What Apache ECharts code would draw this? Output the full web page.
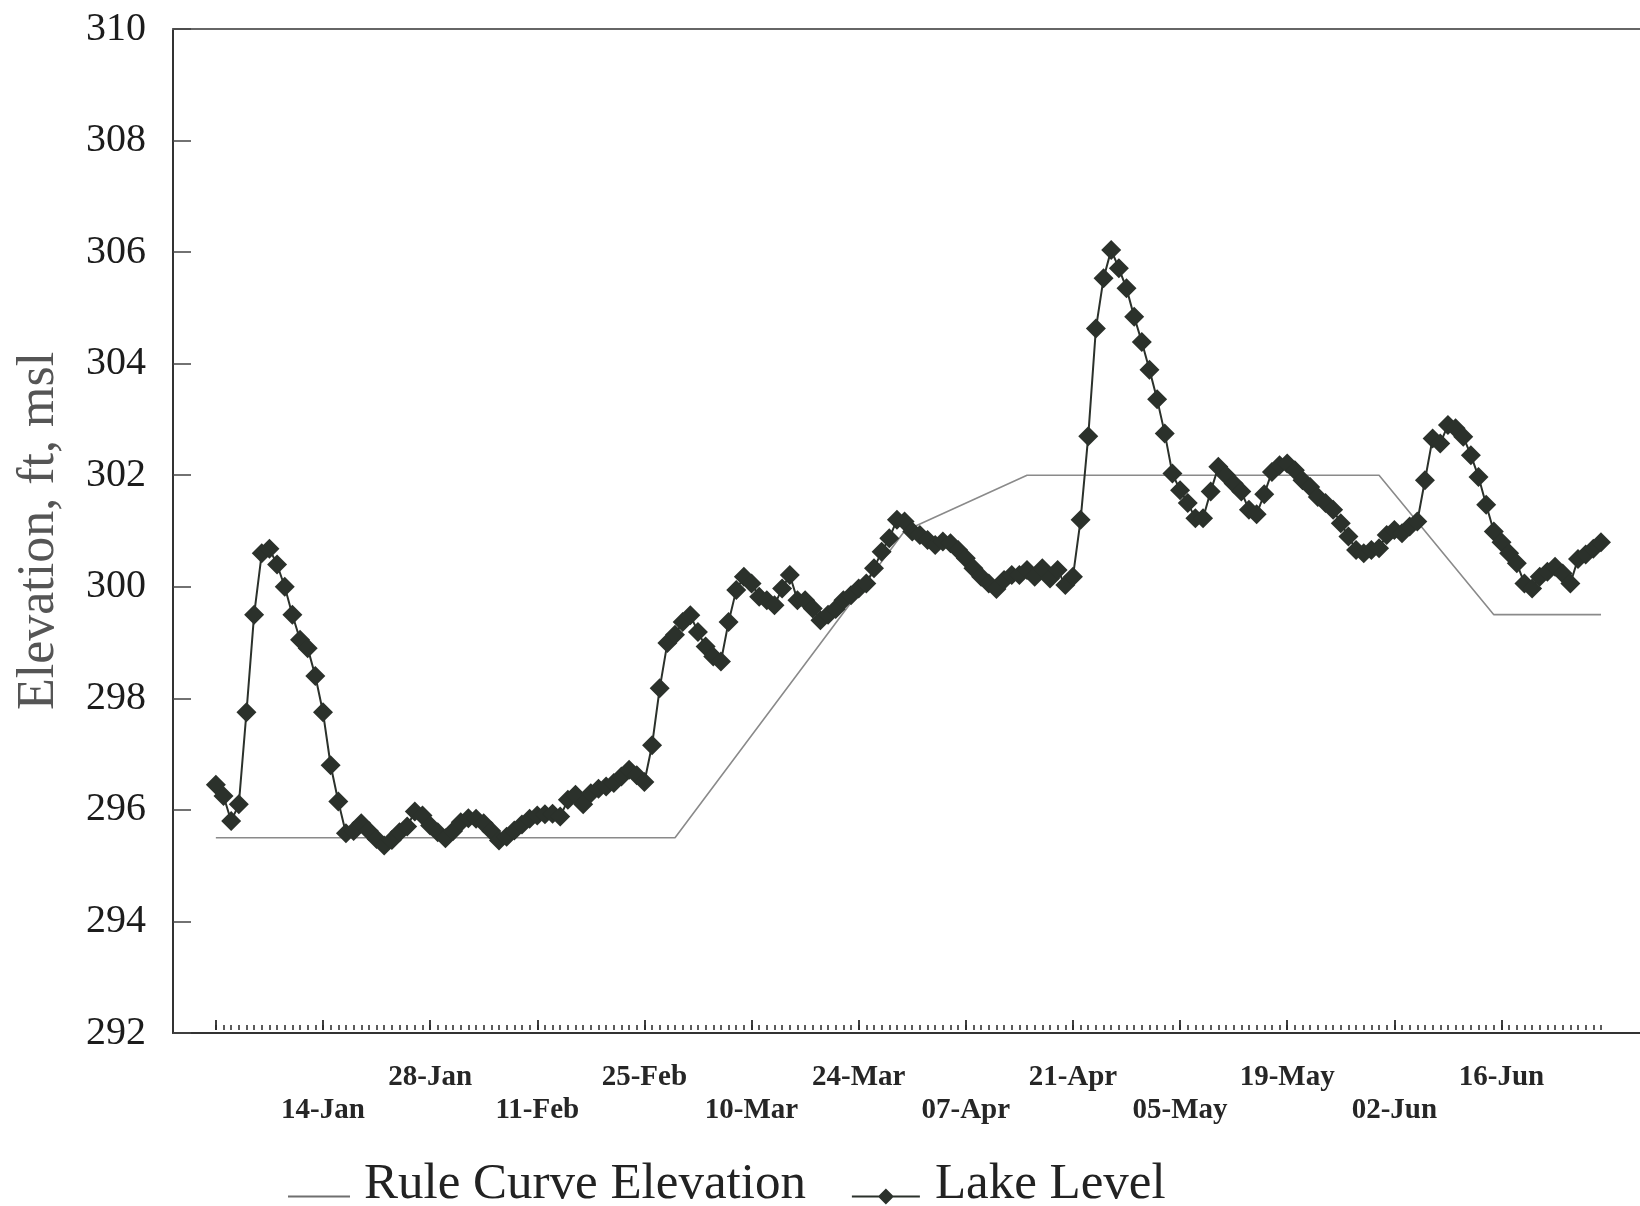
<!DOCTYPE html>
<html>
<head>
<meta charset="utf-8">
<script src="https://cdn.jsdelivr.net/npm/echarts@6/dist/echarts.min.js"></script>
<style>
  html, body { margin: 0; padding: 0; background: #ffffff; }
  #chart { width: 1640px; height: 1206px; }
</style>
</head>
<body>
<div id="chart"></div>
<script>
// Daily lake level (ft, msl), day 0 = 31-Dec-1995 through day 181 = 29-Jun-1996
const lakeLevel = [
  296.45, 296.25, 295.80, 296.10, 297.75, 299.50, 300.60, 300.68, 300.40, 300.00,
  299.50, 299.05, 298.90, 298.40, 297.75, 296.80, 296.15, 295.58, 295.62, 295.76,
  295.62, 295.48, 295.36, 295.46, 295.60, 295.70, 295.97, 295.90, 295.72, 295.60,
  295.49, 295.62, 295.78, 295.85, 295.84, 295.76, 295.62, 295.45, 295.52, 295.63,
  295.74, 295.84, 295.90, 295.92, 295.93, 295.88, 296.18, 296.27, 296.10, 296.30,
  296.38, 296.42, 296.48, 296.60, 296.72, 296.62, 296.50, 297.16, 298.18, 298.99,
  299.14, 299.37, 299.49, 299.19, 298.93, 298.75, 298.66, 299.37, 299.94, 300.18,
  300.06, 299.82, 299.76, 299.67, 299.97, 300.21, 299.76, 299.76, 299.61, 299.40,
  299.50, 299.60, 299.76, 299.85, 299.97, 300.06, 300.33, 300.63, 300.87, 301.20,
  301.17, 300.99, 300.93, 300.84, 300.75, 300.81, 300.78, 300.66, 300.51, 300.33,
  300.18, 300.06, 299.96, 300.12, 300.21, 300.21, 300.30, 300.18, 300.33, 300.15,
  300.30, 300.03, 300.18, 301.20, 302.70, 304.63, 305.53, 306.04, 305.71, 305.35,
  304.84, 304.39, 303.89, 303.36, 302.75, 302.03, 301.73, 301.50, 301.23, 301.23,
  301.71, 302.15, 302.00, 301.85, 301.71, 301.38, 301.30, 301.66, 302.06, 302.18,
  302.21, 302.09, 301.91, 301.79, 301.61, 301.50, 301.38, 301.14, 300.90, 300.66,
  300.60, 300.66, 300.69, 300.93, 301.02, 300.96, 301.08, 301.17, 301.91, 302.66,
  302.57, 302.90, 302.84, 302.69, 302.36, 301.97, 301.47, 300.99, 300.80, 300.60,
  300.42, 300.06, 299.97, 300.18, 300.27, 300.36, 300.24, 300.06, 300.50, 300.58,
  300.68, 300.80
];

// Rule curve breakpoints: [day, elevation ft msl]
const ruleCurve = [
  [0, 295.5], [60, 295.5], [90, 301.0], [106, 302.0],
  [152, 302.0], [167, 299.5], [181, 299.5]
];

// Date labels under the axis, one every 14 days
const tickLabels = ['14-Jan', '28-Jan', '11-Feb', '25-Feb', '10-Mar', '24-Mar',
                    '07-Apr', '21-Apr', '05-May', '19-May', '02-Jun', '16-Jun'];
const labelDays = [14, 28, 42, 56, 70, 84, 98, 112, 126, 140, 154, 168];
const majorTickDays = [0, 14, 28, 42, 56, 70, 84, 98, 112, 126, 140, 154, 168];

const yMin = 292, yMax = 310, yStep = 2;
const dayMin = -5.6, dayMax = 186.1;

const SERIF = '"Liberation Serif", "DejaVu Serif", serif';
const LAKE_COLOR = '#2b312b';
const RULE_COLOR = '#8a8a8a';

const dailyTicks = lakeLevel.map((v, i) => i);
const lakeData = lakeLevel.map((v, i) => [i, v]);

// Legend glyphs: line drawn low in the box, like a baseline rule
const ruleIcon = 'path://M0,0L0.01,0L0,0.01Z M78,40L77.99,40L78,39.99Z M7,31L69,31L69,33L7,33Z';
const lakeIcon = 'path://M0,0L0.01,0L0,0.01Z M78,40L77.99,40L78,39.99Z M0,31L68,31L68,33L0,33Z M34,24L42,32L34,40L26,32Z';

const baseX = { type: 'value', min: dayMin, max: dayMax, gridIndex: 0, splitLine: { show: false } };

const chart = echarts.init(document.getElementById('chart'), null, { renderer: 'canvas' });
chart.setOption({
  animation: false,
  backgroundColor: '#ffffff',
  grid: { left: 173, top: 29, right: 0, bottom: 173, containLabel: false, outerBoundsMode: 'none' },
  xAxis: [
    Object.assign({}, baseX, {
      position: 'bottom',
      axisLine: { show: true, onZero: false, lineStyle: { color: '#333', width: 2 } },
      axisTick: { show: false },
      axisLabel: {
        show: true,
        customValues: labelDays,
        margin: 28,
        fontFamily: SERIF,
        fontSize: 29,
        fontWeight: 'bold',
        color: '#262626',
        lineHeight: 33,
        formatter: function (val) {
          const i = labelDays.indexOf(Math.round(val));
          if (i < 0) return '';
          return i % 2 === 0 ? '\n' + tickLabels[i] : tickLabels[i];
        }
      }
    }),
    Object.assign({}, baseX, {
      position: 'bottom', offset: -3,
      axisLine: { show: false, onZero: false },
      axisTick: { show: true, inside: true, length: 5, customValues: dailyTicks, lineStyle: { color: '#333', width: 1.6 } },
      axisLabel: { show: false }
    }),
    Object.assign({}, baseX, {
      position: 'bottom', offset: -3,
      axisLine: { show: false, onZero: false },
      axisTick: { show: true, inside: true, length: 10, customValues: majorTickDays, lineStyle: { color: '#2a2a2a', width: 1.8 } },
      axisLabel: { show: false }
    }),
    Object.assign({}, baseX, {
      position: 'top',
      axisLine: { show: true, onZero: false, lineStyle: { color: '#666', width: 2 } },
      axisTick: { show: false },
      axisLabel: { show: false }
    })
  ],
  yAxis: {
    type: 'value',
    min: yMin, max: yMax, interval: yStep,
    position: 'left',
    splitLine: { show: false },
    axisLine: { show: true, onZero: false, lineStyle: { color: '#333', width: 2 } },
    axisTick: { show: true, inside: true, length: 18, lineStyle: { color: '#444', width: 1.5 } },
    axisLabel: { fontFamily: SERIF, fontSize: 40, color: '#1c1c1c', margin: 27 },
    name: 'Elevation, ft, msl',
    nameLocation: 'middle',
    nameRotate: 90,
    nameGap: 108,
    nameTextStyle: { fontFamily: SERIF, fontSize: 52, color: '#555555' }
  },
  legend: {
    left: 281,
    top: 1159,
    padding: 0,
    itemWidth: 78,
    itemHeight: 40,
    itemGap: 46,
    symbolKeepAspect: true,
    textStyle: { fontFamily: SERIF, fontSize: 51, color: '#222222', lineHeight: 40 },
    data: [
      { name: 'Rule Curve Elevation', icon: ruleIcon, itemStyle: { color: '#6f6f6f', borderWidth: 0 } },
      { name: 'Lake Level', icon: lakeIcon, itemStyle: { color: LAKE_COLOR, borderWidth: 0 } }
    ]
  },
  series: [
    {
      name: 'Rule Curve Elevation',
      type: 'line',
      xAxisIndex: 0,
      data: ruleCurve,
      symbol: 'none',
      lineStyle: { color: RULE_COLOR, width: 1.6 },
      itemStyle: { color: RULE_COLOR },
      z: 2
    },
    {
      name: 'Lake Level',
      type: 'line',
      xAxisIndex: 0,
      data: lakeData,
      symbol: 'diamond',
      symbolSize: 20,
      lineStyle: { color: LAKE_COLOR, width: 2 },
      itemStyle: { color: LAKE_COLOR, borderWidth: 0 },
      z: 3
    }
  ]
});
</script>
</body>
</html>
